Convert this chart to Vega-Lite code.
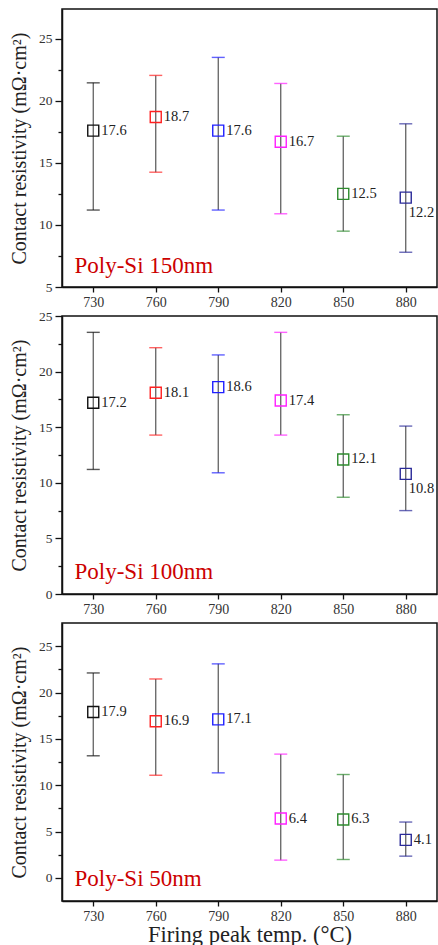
{
  "$schema": "https://vega.github.io/schema/vega-lite/v6.json",
  "padding": {"left": 8, "top": 8, "right": 1, "bottom": 0},
  "spacing": 29,
  "bounds": "flush",
  "config": {
    "view": {"stroke": "#111", "strokeWidth": 1.5},
    "font": "Liberation Serif",
    "axis": {
      "domainColor": "#111", "domainWidth": 1.5, "tickColor": "#111", "tickWidth": 1.3,
      "labelFont": "Liberation Serif", "labelColor": "#333", "grid": false,
      "titleFont": "Liberation Serif", "titleFontWeight": "normal", "titleColor": "#222"
    }
  },
  "datasets": {
    "pts": [
      {"panel": "150", "temp": 730, "mean": 17.6, "lo": 11.2, "hi": 21.45},
      {"panel": "150", "temp": 760, "mean": 18.7, "lo": 14.25, "hi": 22.05},
      {"panel": "150", "temp": 790, "mean": 17.6, "lo": 11.2, "hi": 23.5},
      {"panel": "150", "temp": 820, "mean": 16.7, "lo": 10.9, "hi": 21.4},
      {"panel": "150", "temp": 850, "mean": 12.5, "lo": 9.5, "hi": 17.15},
      {"panel": "150", "temp": 880, "mean": 12.2, "lo": 7.8, "hi": 18.15},
      {"panel": "100", "temp": 730, "mean": 17.2, "lo": 11.2, "hi": 23.53},
      {"panel": "100", "temp": 760, "mean": 18.1, "lo": 14.29, "hi": 22.15},
      {"panel": "100", "temp": 790, "mean": 18.6, "lo": 10.9, "hi": 21.5},
      {"panel": "100", "temp": 820, "mean": 17.4, "lo": 14.29, "hi": 23.53},
      {"panel": "100", "temp": 850, "mean": 12.1, "lo": 8.7, "hi": 16.12},
      {"panel": "100", "temp": 880, "mean": 10.8, "lo": 7.5, "hi": 15.1},
      {"panel": "50", "temp": 730, "mean": 17.9, "lo": 13.17, "hi": 22.11},
      {"panel": "50", "temp": 760, "mean": 16.9, "lo": 11.07, "hi": 21.46},
      {"panel": "50", "temp": 790, "mean": 17.1, "lo": 11.33, "hi": 23.09},
      {"panel": "50", "temp": 820, "mean": 6.4, "lo": 1.91, "hi": 13.35},
      {"panel": "50", "temp": 850, "mean": 6.3, "lo": 1.98, "hi": 11.15},
      {"panel": "50", "temp": 880, "mean": 4.1, "lo": 2.34, "hi": 6.02}
    ],
    "notes": [
      {"panel": "150", "x": 721, "y": 6.15, "label": "Poly-Si 150nm"},
      {"panel": "100", "x": 721, "y": 1.39, "label": "Poly-Si 100nm"},
      {"panel": "50", "x": 721, "y": -0.87, "label": "Poly-Si 50nm"}
    ]
  },
  "vconcat": [
    {
      "width": 375, "height": 278,
      "data": {"name": "pts"},
      "transform": [{"filter": "datum.panel === '150'"}],
      "encoding": {
        "x": {"field": "temp", "type": "quantitative", "scale": {"domain": [715, 895], "nice": false},
          "axis": {"values": [730, 760, 790, 820, 850, 880], "title": null, "tickSize": 5, "labelFontSize": 14, "labelPadding": 3}},
        "y": {"field": "mean", "type": "quantitative", "scale": {"domain": [5, 27.4], "nice": false, "zero": false},
          "axis": {"values": [5, 7.5, 10, 12.5, 15, 17.5, 20, 22.5, 25],
            "labelExpr": "datum.value % 5 === 0 ? datum.label : ''",
            "tickSize": {"condition": {"test": "datum.value % 5 === 0", "value": 7}, "value": 4},
            "labelFontSize": 13.5, "labelPadding": 3, "title": "Contact resistivity (mΩ·cm²)", "titleFontSize": 20, "titlePadding": 9}},
        "color": {"field": "temp", "type": "nominal", "legend": null,
          "scale": {"domain": [730, 760, 790, 820, 850, 880], "range": ["#111111", "#ff2020", "#2020ff", "#ff20ff", "#2e8b2e", "#2a2a99"]}}
      },
      "layer": [
        {"mark": {"type": "rule", "color": "#555", "strokeWidth": 1.2}, "encoding": {"y": {"field": "lo", "type": "quantitative"}, "y2": {"field": "hi"}, "color": {"value": "#555"}}},
        {"mark": {"type": "tick", "orient": "horizontal", "size": 13, "thickness": 1.4}, "encoding": {"y": {"field": "lo", "type": "quantitative"}}},
        {"mark": {"type": "tick", "orient": "horizontal", "size": 13, "thickness": 1.4}, "encoding": {"y": {"field": "hi", "type": "quantitative"}}},
        {"mark": {"type": "point", "shape": "square", "filled": false, "size": 121, "strokeWidth": 1.4, "opacity": 1}},
        {"transform": [{"filter": "datum.temp !== 880"}], "mark": {"type": "text", "align": "left", "baseline": "middle", "dx": 8, "fontSize": 14.5, "font": "Liberation Serif", "color": "#222"}, "encoding": {"text": {"field": "mean", "type": "quantitative", "format": ".1f"}, "color": {"value": "#222"}}},
        {"transform": [{"filter": "datum.temp === 880"}], "mark": {"type": "text", "align": "left", "baseline": "middle", "dx": 3, "dy": 15, "fontSize": 14.5, "font": "Liberation Serif", "color": "#222"}, "encoding": {"text": {"field": "mean", "type": "quantitative", "format": ".1f"}, "color": {"value": "#222"}}},
        {"data": {"name": "notes"}, "transform": [{"filter": "datum.panel === '150'"}],
          "mark": {"type": "text", "align": "left", "baseline": "alphabetic", "fontSize": 23, "font": "Liberation Serif", "color": "#cc0000"},
          "encoding": {"x": {"field": "x", "type": "quantitative"}, "y": {"field": "y", "type": "quantitative"}, "text": {"field": "label"}, "color": {"value": "#cc0000"}}}
      ]
    },
    {
      "width": 375, "height": 278,
      "data": {"name": "pts"},
      "transform": [{"filter": "datum.panel === '100'"}],
      "encoding": {
        "x": {"field": "temp", "type": "quantitative", "scale": {"domain": [715, 895], "nice": false},
          "axis": {"values": [730, 760, 790, 820, 850, 880], "title": null, "tickSize": 5, "labelFontSize": 14, "labelPadding": 3}},
        "y": {"field": "mean", "type": "quantitative", "scale": {"domain": [0, 25], "nice": false, "zero": false},
          "axis": {"values": [0, 2.5, 5, 7.5, 10, 12.5, 15, 17.5, 20, 22.5, 25],
            "labelExpr": "datum.value % 5 === 0 ? datum.label : ''",
            "tickSize": {"condition": {"test": "datum.value % 5 === 0", "value": 7}, "value": 4},
            "labelFontSize": 13.5, "labelPadding": 3, "title": "Contact resistivity (mΩ·cm²)", "titleFontSize": 20, "titlePadding": 9}},
        "color": {"field": "temp", "type": "nominal", "legend": null,
          "scale": {"domain": [730, 760, 790, 820, 850, 880], "range": ["#111111", "#ff2020", "#2020ff", "#ff20ff", "#2e8b2e", "#2a2a99"]}}
      },
      "layer": [
        {"mark": {"type": "rule", "color": "#555", "strokeWidth": 1.2}, "encoding": {"y": {"field": "lo", "type": "quantitative"}, "y2": {"field": "hi"}, "color": {"value": "#555"}}},
        {"mark": {"type": "tick", "orient": "horizontal", "size": 13, "thickness": 1.4}, "encoding": {"y": {"field": "lo", "type": "quantitative"}}},
        {"mark": {"type": "tick", "orient": "horizontal", "size": 13, "thickness": 1.4}, "encoding": {"y": {"field": "hi", "type": "quantitative"}}},
        {"mark": {"type": "point", "shape": "square", "filled": false, "size": 121, "strokeWidth": 1.4, "opacity": 1}},
        {"transform": [{"filter": "datum.temp !== 880"}], "mark": {"type": "text", "align": "left", "baseline": "middle", "dx": 8, "fontSize": 14.5, "font": "Liberation Serif", "color": "#222"}, "encoding": {"text": {"field": "mean", "type": "quantitative", "format": ".1f"}, "color": {"value": "#222"}}},
        {"transform": [{"filter": "datum.temp === 880"}], "mark": {"type": "text", "align": "left", "baseline": "middle", "dx": 3, "dy": 15, "fontSize": 14.5, "font": "Liberation Serif", "color": "#222"}, "encoding": {"text": {"field": "mean", "type": "quantitative", "format": ".1f"}, "color": {"value": "#222"}}},
        {"data": {"name": "notes"}, "transform": [{"filter": "datum.panel === '100'"}],
          "mark": {"type": "text", "align": "left", "baseline": "alphabetic", "fontSize": 23, "font": "Liberation Serif", "color": "#cc0000"},
          "encoding": {"x": {"field": "x", "type": "quantitative"}, "y": {"field": "y", "type": "quantitative"}, "text": {"field": "label"}, "color": {"value": "#cc0000"}}}
      ]
    },
    {
      "width": 375, "height": 278,
      "data": {"name": "pts"},
      "transform": [{"filter": "datum.panel === '50'"}],
      "encoding": {
        "x": {"field": "temp", "type": "quantitative", "scale": {"domain": [715, 895], "nice": false},
          "axis": {"values": [730, 760, 790, 820, 850, 880], "title": "Firing peak temp. (°C)", "titleFontSize": 22.5, "titlePadding": 0, "tickSize": 5, "labelFontSize": 14, "labelPadding": 3}},
        "y": {"field": "mean", "type": "quantitative", "scale": {"domain": [-2.5, 27.5], "nice": false, "zero": false},
          "axis": {"values": [0, 2.5, 5, 7.5, 10, 12.5, 15, 17.5, 20, 22.5, 25],
            "labelExpr": "datum.value % 5 === 0 ? datum.label : ''",
            "tickSize": {"condition": {"test": "datum.value % 5 === 0", "value": 7}, "value": 4},
            "labelFontSize": 13.5, "labelPadding": 3, "title": "Contact resistivity (mΩ·cm²)", "titleFontSize": 20, "titlePadding": 9}},
        "color": {"field": "temp", "type": "nominal", "legend": null,
          "scale": {"domain": [730, 760, 790, 820, 850, 880], "range": ["#111111", "#ff2020", "#2020ff", "#ff20ff", "#2e8b2e", "#2a2a99"]}}
      },
      "layer": [
        {"mark": {"type": "rule", "color": "#555", "strokeWidth": 1.2}, "encoding": {"y": {"field": "lo", "type": "quantitative"}, "y2": {"field": "hi"}, "color": {"value": "#555"}}},
        {"mark": {"type": "tick", "orient": "horizontal", "size": 13, "thickness": 1.4}, "encoding": {"y": {"field": "lo", "type": "quantitative"}}},
        {"mark": {"type": "tick", "orient": "horizontal", "size": 13, "thickness": 1.4}, "encoding": {"y": {"field": "hi", "type": "quantitative"}}},
        {"mark": {"type": "point", "shape": "square", "filled": false, "size": 121, "strokeWidth": 1.4, "opacity": 1}},
        {"mark": {"type": "text", "align": "left", "baseline": "middle", "dx": 8, "fontSize": 14.5, "font": "Liberation Serif", "color": "#222"}, "encoding": {"text": {"field": "mean", "type": "quantitative", "format": ".1f"}, "color": {"value": "#222"}}},
        {"data": {"name": "notes"}, "transform": [{"filter": "datum.panel === '50'"}],
          "mark": {"type": "text", "align": "left", "baseline": "alphabetic", "fontSize": 23, "font": "Liberation Serif", "color": "#cc0000"},
          "encoding": {"x": {"field": "x", "type": "quantitative"}, "y": {"field": "y", "type": "quantitative"}, "text": {"field": "label"}, "color": {"value": "#cc0000"}}}
      ]
    }
  ]
}
